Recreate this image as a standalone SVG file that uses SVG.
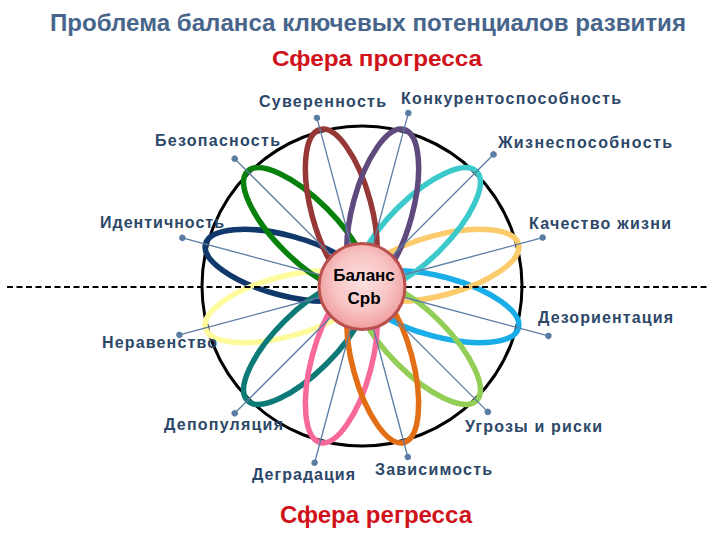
<svg xmlns="http://www.w3.org/2000/svg" width="720" height="540" viewBox="0 0 720 540">
<defs>
<radialGradient id="pink" cx="50%" cy="45%" r="55%">
<stop offset="0" stop-color="#fde0e0"/>
<stop offset="0.6" stop-color="#f8c4c4"/>
<stop offset="1" stop-color="#ef9c9c"/>
</radialGradient>
<style>
.orb{fill:none;stroke-width:5.5}
.lbl{font-family:"Liberation Sans",Arial,sans-serif;font-size:16px;font-weight:bold;fill:#2c4768}
.spoke{stroke:#5a7ca3;stroke-width:1.3}
.dot{fill:#5a7ca3}
.ttl{font-family:"Liberation Sans",Arial,sans-serif;font-weight:bold}
</style>
</defs>
<rect width="720" height="540" fill="#ffffff"/>
<text class="ttl" x="50" y="31" font-size="24" fill="#47658b" textLength="636" lengthAdjust="spacingAndGlyphs">Проблема баланса ключевых потенциалов развития</text>
<text class="ttl" x="272" y="66" font-size="22.5" fill="#d0121b" textLength="210" lengthAdjust="spacingAndGlyphs">Сфера прогресса</text>
<text class="ttl" x="280" y="523" font-size="23" fill="#d0121b" textLength="192" lengthAdjust="spacingAndGlyphs">Сфера регресса</text>
<circle cx="362" cy="286" r="160" fill="none" stroke="#000" stroke-width="3"/>
<g id="n-identichnost"><ellipse class="orb" stroke="#10386a" cx="80" cy="0" rx="82" ry="30" transform="translate(362 286) rotate(-165)"/><text class="lbl" x="100" y="228" textLength="124">Идентичность</text></g>
<g id="n-neravenstvo"><ellipse class="orb" stroke="#fdfb9c" cx="80" cy="0" rx="82" ry="30" transform="translate(362 286) rotate(165)"/><text class="lbl" x="102" y="348" textLength="115">Неравенство</text></g>
<g id="n-dezorientatsiya"><ellipse class="orb" stroke="#19aee8" cx="80" cy="0" rx="82" ry="30" transform="translate(362 286) rotate(15)"/><text class="lbl" x="538" y="323" textLength="135">Дезориентация</text></g>
<g id="n-kachestvo"><ellipse class="orb" stroke="#fbcb6c" cx="80" cy="0" rx="82" ry="30" transform="translate(362 286) rotate(-15)"/><text class="lbl" x="529" y="229" textLength="142">Качество жизни</text></g>
<g id="n-bezopasnost"><ellipse class="orb" stroke="#07800c" cx="80" cy="0" rx="82" ry="30" transform="translate(362 286) rotate(-135)"/><text class="lbl" x="155" y="146" textLength="125">Безопасность</text></g>
<g id="n-depopulyatsiya"><ellipse class="orb" stroke="#0d7a78" cx="80" cy="0" rx="82" ry="30" transform="translate(362 286) rotate(135)"/><text class="lbl" x="164" y="430" textLength="119">Депопуляция</text></g>
<g id="n-ugrozy"><ellipse class="orb" stroke="#93cf57" cx="80" cy="0" rx="82" ry="30" transform="translate(362 286) rotate(45)"/><text class="lbl" x="465" y="432" textLength="137">Угрозы и риски</text></g>
<g id="n-zhiznesposobnost"><ellipse class="orb" stroke="#3cc9cb" cx="80" cy="0" rx="82" ry="30" transform="translate(362 286) rotate(-45)"/><text class="lbl" x="498" y="148" textLength="174">Жизнеспособность</text></g>
<g id="n-suverennost"><ellipse class="orb" stroke="#953836" cx="80" cy="0" rx="82" ry="30" transform="translate(362 286) rotate(-105)"/><text class="lbl" x="259" y="107" textLength="127">Суверенность</text></g>
<g id="n-konkurentosposobnost"><ellipse class="orb" stroke="#5f4a7d" cx="80" cy="0" rx="82" ry="30" transform="translate(362 286) rotate(-75)"/><text class="lbl" x="401" y="104" textLength="220">Конкурентоспособность</text></g>
<g id="n-degradatsiya"><ellipse class="orb" stroke="#f7699b" cx="80" cy="0" rx="82" ry="30" transform="translate(362 286) rotate(105)"/><text class="lbl" x="252" y="480" textLength="103">Деградация</text></g>
<g id="n-zavisimost"><ellipse class="orb" stroke="#e26f16" cx="80" cy="0" rx="82" ry="30" transform="translate(362 286) rotate(75)"/><text class="lbl" x="375" y="475" textLength="117">Зависимость</text></g>
<line x1="7" y1="287" x2="708" y2="287" stroke="#000" stroke-width="2" stroke-dasharray="6 3.5"/>
<g id="connectors">
<g transform="translate(362 286) rotate(-105)"><line class="spoke" x1="0" y1="0" x2="174" y2="0"/><circle class="dot" cx="174" cy="0" r="3.2"/></g>
<g transform="translate(362 286) rotate(-75)"><line class="spoke" x1="0" y1="0" x2="179" y2="0"/><circle class="dot" cx="179" cy="0" r="3.2"/></g>
<g transform="translate(362 286) rotate(-135)"><line class="spoke" x1="0" y1="0" x2="180" y2="0"/><circle class="dot" cx="180" cy="0" r="3.2"/></g>
<g transform="translate(362 286) rotate(-45)"><line class="spoke" x1="0" y1="0" x2="186" y2="0"/><circle class="dot" cx="186" cy="0" r="3.2"/></g>
<g transform="translate(362 286) rotate(-165)"><line class="spoke" x1="0" y1="0" x2="186" y2="0"/><circle class="dot" cx="186" cy="0" r="3.2"/></g>
<g transform="translate(362 286) rotate(-15)"><line class="spoke" x1="0" y1="0" x2="187" y2="0"/><circle class="dot" cx="187" cy="0" r="3.2"/></g>
<g transform="translate(362 286) rotate(165)"><line class="spoke" x1="0" y1="0" x2="189" y2="0"/><circle class="dot" cx="189" cy="0" r="3.2"/></g>
<g transform="translate(362 286) rotate(15)"><line class="spoke" x1="0" y1="0" x2="193" y2="0"/><circle class="dot" cx="193" cy="0" r="3.2"/></g>
<g transform="translate(362 286) rotate(135)"><line class="spoke" x1="0" y1="0" x2="180" y2="0"/><circle class="dot" cx="180" cy="0" r="3.2"/></g>
<g transform="translate(362 286) rotate(45)"><line class="spoke" x1="0" y1="0" x2="178" y2="0"/><circle class="dot" cx="178" cy="0" r="3.2"/></g>
<g transform="translate(362 286) rotate(105)"><line class="spoke" x1="0" y1="0" x2="183" y2="0"/><circle class="dot" cx="183" cy="0" r="3.2"/></g>
<g transform="translate(362 286) rotate(75)"><line class="spoke" x1="0" y1="0" x2="177" y2="0"/><circle class="dot" cx="177" cy="0" r="3.2"/></g>
</g>
<g id="n-balans">
<circle cx="362" cy="286.5" r="43" fill="url(#pink)" stroke="#b9504e" stroke-width="3"/>
<text class="ttl" x="364" y="281" font-size="17" fill="#000" text-anchor="middle">Баланс</text>
<text class="ttl" x="364" y="304" font-size="17" fill="#000" text-anchor="middle">Срb</text>
</g>
</svg>
